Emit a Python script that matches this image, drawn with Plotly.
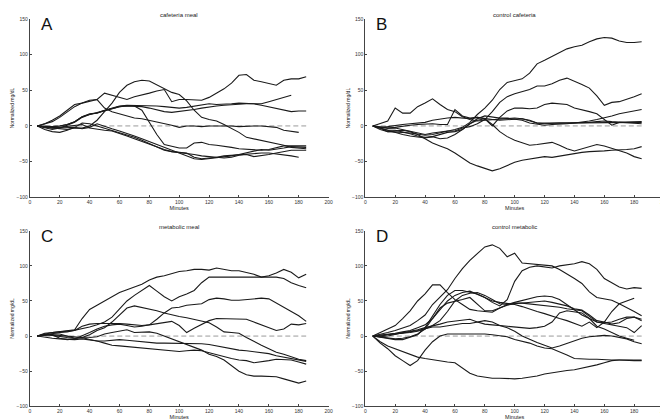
import plotly.graph_objects as go

# sampling times (minutes)
TIMES = [5, 10, 15, 20, 25, 30, 35, 40, 45, 50, 55, 60, 65, 70, 75, 80, 85, 90, 95,
         100, 105, 110, 115, 120, 125, 130, 135, 140, 145, 150, 155, 160, 165, 170,
         175, 180, 185]

# A - cafeteria meal
caf_meal_1 = [0, 3, 8, 14, 22, 30, 32, 35, 37, 46, 43, 40, 37, 41, 43, 46, 49, 51, 34, 37, 37, 36, 36, 40, 46, 52, 60, 71, 72, 64, 62, 60, 57, 64, 66, 66, 69]
caf_meal_2 = [0, -2, -3, -4, -5, -3, -3, 0, 8, 20, 32, 47, 57, 62, 64, 63, 58, 52, 47, 44, 35, 22, 12, 9, 7, 2, -3, -9, -16, -18, -20, -22, -24, -27, -30, -31, -32]
caf_meal_3 = [0, -1, -2, -3, 1, 5, 12, 16, 18, 21, 24, 27, 28, 28, 27, 25, 22, 20, 19, 20, 21, 23, 25, 27, 28, 29, 30, 31, 31, 31, 31, 34, 37, 40, 43, None, None]
caf_meal_4 = [0, 3, 6, 12, 20, 27, 32, 36, 37, 25, 20, 17, 14, 11, 10, 8, 6, 4, 1, -2, 0, 0, -1, 0, 0, 1, 0, -1, 0, 0, 0, -1, -2, -6, -8, -9, None]
caf_meal_5 = [0, -1, -1, 0, 2, 6, 13, 17, 18, 22, 25, 28, 29, 29, 29, 28, 28, 27, 26, 25, 26, 28, 30, 31, 30, 30, 31, 32, 32, 31, 29, 27, 25, 22, 20, 21, 21]
caf_meal_6 = [0, -1, -1, 0, 2, 6, 13, 16, 19, 22, 25, 27, 28, 28, 22, 5, -12, -26, -29, -31, -31, -24, -23, -26, -27, -28, -30, -32, -33, -33, -34, -33, -31, -28, -28, -28, -28]
caf_meal_7 = [0, -3, -5, -3, -3, -2, -4, -2, 3, -1, -4, -7, -10, -14, -18, -22, -27, -31, -35, -39, -43, -46, -47, -46, -45, -44, -42, -40, -38, -35, -33, -34, -33, -31, -29, -30, -30]
caf_meal_8 = [0, -2, -3, -2, -1, 0, 2, -3, -5, -6, -7, -10, -14, -18, -22, -26, -30, -33, -36, -37, -38, -40, -42, -43, -44, -42, -41, -41, -40, -39, -38, -38, -39, -41, -42, -44, None]
caf_meal_9 = [0, -5, -8, -9, -6, -2, 4, 3, 0, -3, -6, -9, -12, -16, -20, -25, -29, -34, -36, -37, -38, -44, -46, -45, -44, -45, -44, -41, -40, -43, -42, -40, -38, -36, -34, -34, -34]

# B - control cafeteria
ctl_caf_1 = [0, -3, -8, -8, -9, -10, -12, -13, -12, -10, -8, -5, -2, 5, 16, 25, 36, 51, 61, 64, 66, 74, 87, 92, 97, 103, 108, 111, 113, 118, 122, 124, 123, 119, 117, 117, 118]
ctl_caf_2 = [0, -2, -3, -3, -5, -8, -10, -12, -10, -8, -7, -7, -3, -1, 3, 9, 20, 33, 41, 45, 48, 51, 56, 56, 59, 64, 67, 63, 58, 53, 42, 29, 33, 34, 37, 41, 45]
ctl_caf_3 = [0, -3, -6, -6, -8, -11, -14, -16, -15, -18, -17, -12, -5, 3, 8, 10, 0, 12, 21, 25, 25, 24, 25, 30, 32, 31, 30, 25, 23, 20, 17, 9, 1, 5, 5, 5, 6]
ctl_caf_4 = [0, 3, 7, 25, 18, 18, 27, 32, 38, 30, 23, 20, 13, 9, 7, 8, 9, 10, 10, 11, 10, 7, 4, 3, 4, 4, 4, 4, 4, 5, 6, 7, 6, 5, 4, 3, 3]
ctl_caf_5 = [0, -2, -3, -2, 0, 1, 2, 3, 3, 2, 2, 23, 14, 11, 12, 10, 2, -8, -15, -20, -24, -27, -26, -25, -23, -27, -32, -35, -32, -28, -26, -28, -31, -35, -38, -43, -46]
ctl_caf_6 = [0, -5, -8, -7, -6, -8, -12, -18, -24, -28, -32, -38, -45, -52, -56, -60, -63, -60, -55, -51, -48, -46, -44, -43, -44, -42, -40, -38, -37, -36, -36, -35, -34, -34, -33, -32, -29]
ctl_caf_7 = [0, -2, -1, 1, 2, 3, 4, 5, 8, 10, 11, 12, 11, 10, 12, 10, 9, 8, 9, 10, 10, 8, 4, 4, 4, 4, 4, 4, 4, 4, 5, 5, 5, 4, 4, 4, 5]
ctl_caf_8 = [0, -3, -6, -10, -12, -14, -16, -17, -15, -12, -9, -8, -5, 3, 10, 14, 12, 11, 11, 10, 8, 4, 3, 1, 2, 2, 3, 4, 5, 7, 9, 11, 14, 17, 19, 21, 23]

# C - metabolic meal
met_meal_1 = [0, 4, 5, 6, 7, 9, 25, 38, 44, 50, 56, 62, 66, 70, 74, 80, 84, 86, 89, 92, 93, 95, 95, 94, 97, 95, 93, 93, 91, 88, 84, 86, 90, 95, 91, 83, 88]
met_meal_2 = [0, 2, 4, 5, 6, 8, 10, 13, 16, 20, 27, 38, 50, 58, 65, 72, 64, 56, 50, 56, 60, 65, 76, 84, 84, 84, 84, 84, 84, 84, 85, 84, 84, 82, 76, 72, 69]
met_meal_3 = [0, 2, 3, 3, 0, -3, -2, 2, 8, 12, 20, 30, 40, 43, 41, 39, 36, 33, 30, 28, 26, 24, 22, 19, 13, 6, 5, 4, -2, -8, -13, -18, -23, -26, -30, -33, -35]
met_meal_4 = [0, 3, 5, 6, 7, 8, 14, 17, 18, 18, 19, 18, 17, 16, 15, 16, 18, 20, 21, 15, 5, 11, 17, 22, 25, 25, 25, 25, 24, 20, 16, 11, 8, 10, 17, 16, 18]
met_meal_5 = [0, 1, 2, -3, -5, -4, 0, 5, 10, 14, 16, 17, 15, 13, 14, 16, 24, 33, 40, 41, 44, 45, 46, 52, 54, 53, 51, 51, 52, 53, 54, 53, 47, 41, 36, 29, 21]
met_meal_6 = [0, 2, 1, -1, -2, -3, -3, -2, -1, 3, 5, 7, 9, 5, 6, 6, 4, 0, -3, -8, -12, -16, -20, -26, -29, -34, -42, -50, -55, -57, -57, -57, -58, -61, -64, -67, -64]
met_meal_7 = [0, 3, 2, 1, 0, -1, -2, -5, -7, -7, -6, -5, -6, -7, -9, -10, -10, -10, -10, -11, -11, -11, -11, -12, -14, -17, -18, -20, -21, -22, -23, -25, -28, -30, -33, -35, -36]
met_meal_8 = [0, -2, -3, -4, -5, -5, -4, -5, -7, -10, -13, -14, -15, -16, -17, -18, -19, -21, -22, -22, -21, -20, -21, -24, -26, -30, -32, -34, -35, -38, -37, -35, -33, -33, -34, -37, -40]

# D - control metabolic
ctl_met_1 = [0, 2, 5, 8, 12, 15, 22, 30, 45, 55, 66, 82, 96, 108, 118, 127, 130, 125, 113, 118, 104, 103, 101, 100, 100, 95, 89, 82, 75, 63, 55, 53, 51, 46, 41, 35, 29]
ctl_met_2 = [0, -1, -3, -4, -3, -1, 3, 10, 25, 38, 50, 58, 62, 64, 60, 55, 48, 43, 52, 78, 93, 98, 100, 98, 97, 100, 101, 103, 106, 103, 95, 82, 76, 70, 67, 69, 68]
ctl_met_3 = [0, 5, 9, 15, 25, 36, 50, 60, 73, 73, 62, 52, 45, 38, 36, 35, 34, 40, 45, 48, 51, 53, 56, 57, 56, 52, 45, 38, 30, 25, 20, 18, 16, 15, 12, 5, 15]
ctl_met_4 = [0, -2, -4, -5, -5, -2, 2, 12, 28, 45, 58, 65, 65, 62, 60, 55, 50, 48, 47, 45, 42, 38, 35, 32, 28, 25, 22, 18, 14, 20, 12, 20, 35, 46, 50, 54, None]
ctl_met_5 = [0, 1, 2, 4, 6, 8, 12, 16, 25, 40, 47, 49, 52, 55, 45, 36, 36, 40, 44, 46, 47, 48, 49, 50, 48, 46, 43, 39, 37, 30, 22, 20, 17, 19, 25, 27, 22]
ctl_met_6 = [0, -1, 0, 2, 4, 6, 9, 12, 14, 17, 20, 21, 23, 24, 20, 17, 16, 15, 14, 13, 12, 11, 12, 14, 20, 33, 36, 35, 33, 25, 14, 10, 5, 0, -3, -6, None]
ctl_met_7 = [0, 0, 2, 3, 5, 6, 8, 11, 13, 13, 15, 17, 18, 18, 20, 22, 20, 15, 12, 7, 0, -5, -9, -13, -17, -14, -10, -6, -3, -1, 0, 1, 0, -2, -4, -8, -11]
ctl_met_8 = [0, 1, 1, 2, 4, 5, 7, 10, 15, 22, 35, 50, 58, 61, 62, 58, 52, 46, 45, 47, 47, 46, 45, 44, 43, 41, 39, 37, 36, 28, 20, 19, 20, 24, 27, 27, 24]
ctl_met_9 = [0, -10, -18, -28, -35, -42, -35, -20, -8, 0, 3, 3, 4, 4, 3, 3, 2, 0, -1, -5, -7, -10, -14, -17, -18, -22, -27, -32, -33, -33, -33, -34, -34, -34, -35, -35, -35]
ctl_met_10 = [0, -8, -14, -18, -22, -26, -30, -32, -34, -36, -37, -38, -45, -53, -57, -59, -60, -60, -61, -61, -60, -59, -57, -54, -52, -51, -49, -48, -46, -44, -41, -38, -35, -34, -34, -34, -34]

panel_titles = ["cafeteria meal", "control cafeteria", "metabolic meal", "control metabolic"]
panel_letters = ["A", "B", "C", "D"]

panels = [
    [caf_meal_1, caf_meal_2, caf_meal_3, caf_meal_4, caf_meal_5, caf_meal_6, caf_meal_7, caf_meal_8, caf_meal_9],
    [ctl_caf_1, ctl_caf_2, ctl_caf_3, ctl_caf_4, ctl_caf_5, ctl_caf_6, ctl_caf_7, ctl_caf_8],
    [met_meal_1, met_meal_2, met_meal_3, met_meal_4, met_meal_5, met_meal_6, met_meal_7, met_meal_8],
    [ctl_met_1, ctl_met_2, ctl_met_3, ctl_met_4, ctl_met_5, ctl_met_6, ctl_met_7, ctl_met_8, ctl_met_9, ctl_met_10],
]

W, H = 668, 419
FONT = "Arial, Liberation Sans, sans-serif"

# pixel boxes of each plot area (left, right, top, bottom)
boxes = [(21, 322, 8, 189), (359, 660, 8, 189), (21, 322, 223, 401), (359, 660, 223, 401)]

fig = go.Figure()
layout = dict(width=W, height=H, margin=dict(l=0, r=0, t=0, b=0),
              paper_bgcolor="white", plot_bgcolor="white", showlegend=False,
              font=dict(family=FONT, color="#222"), annotations=[], shapes=[])

for i, series in enumerate(panels):
    n = i + 1
    xa = "x" if n == 1 else "x%d" % n
    ya = "y" if n == 1 else "y%d" % n
    # dashed reference at zero
    fig.add_trace(go.Scatter(x=[TIMES[0], TIMES[-1]], y=[0, 0], mode="lines",
                             line=dict(color="#9a9a9a", width=1, dash="5px,3px"),
                             xaxis=xa, yaxis=ya, hoverinfo="skip"))
    for s in series:
        fig.add_trace(go.Scatter(x=TIMES, y=s, mode="lines",
                                 line=dict(color="#1a1a1a", width=1.1),
                                 xaxis=xa, yaxis=ya))

    l, r, t, b = boxes[i]
    xdom = [l / W, r / W]
    ydom = [1 - b / H, 1 - t / H]
    ax_common = dict(showline=True, linecolor="#444", linewidth=1, showgrid=False,
                     zeroline=False, ticks="inside", ticklen=2, tickcolor="#444",
                     tickfont=dict(size=5, family=FONT, color="#333"))
    layout["xaxis" if n == 1 else "xaxis%d" % n] = dict(
        ax_common, domain=xdom, range=[0, 200], dtick=20, anchor=ya,
        title=dict(text="Minutes", font=dict(size=5.5, family=FONT), standoff=0))
    layout["yaxis" if n == 1 else "yaxis%d" % n] = dict(
        ax_common, domain=ydom, range=[-100, 150], dtick=50, anchor=xa,
        title=dict(text="Normalized mg/dL", font=dict(size=5, family=FONT), standoff=1))

    layout["annotations"].append(dict(
        text=panel_titles[i], x=(xdom[0] + xdom[1]) / 2, y=1 - (t - 4) / H,
        xref="paper", yref="paper", xanchor="center", yanchor="middle",
        showarrow=False, font=dict(size=6, family=FONT, color="#222")))
    layout["annotations"].append(dict(
        text=panel_letters[i], x=(l + 9) / W, y=1 - (t + 6) / H,
        xref="paper", yref="paper", xanchor="left", yanchor="middle",
        showarrow=False, font=dict(size=17, family=FONT, color="#111")))

fig.update_layout(**layout)
fig.write_html("out.html")
